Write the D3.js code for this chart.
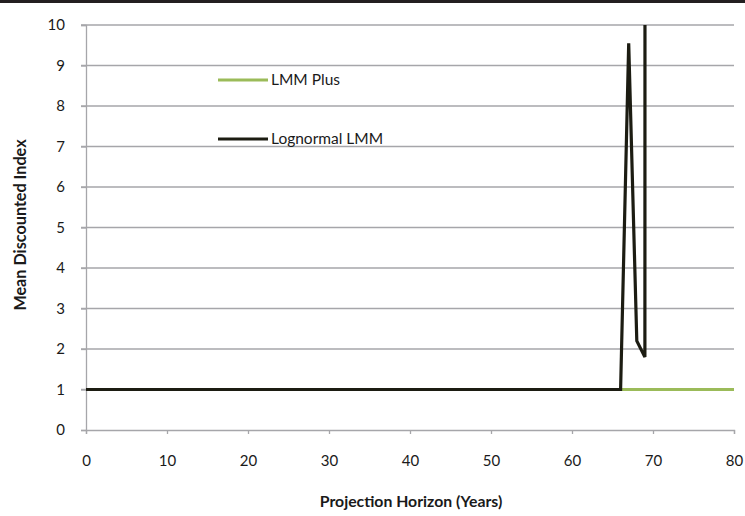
<!DOCTYPE html>
<html>
<head>
<meta charset="utf-8">
<script src="https://cdn.jsdelivr.net/npm/d3@7"></script>
<style>
  body { margin: 0; background: #fff; }
  svg { display: block; font-family: Lato, "Open Sans", sans-serif; }
</style>
</head>
<body>
<svg id="chart" width="745" height="516"></svg>
<script>
// projection years and mean discounted index for each model
const years = [0,1,2,3,4,5,6,7,8,9,10,11,12,13,14,15,16,17,18,19,20,21,22,23,24,25,26,27,28,29,30,
  31,32,33,34,35,36,37,38,39,40,41,42,43,44,45,46,47,48,49,50,51,52,53,54,55,56,57,58,59,60,
  61,62,63,64,65,66,67,68,69,70,71,72,73,74,75,76,77,78,79,80];
const lmmPlus = [1,1,1,1,1,1,1,1,1,1,1,1,1,1,1,1,1,1,1,1,1,1,1,1,1,1,1,1,1,1,1,
  1,1,1,1,1,1,1,1,1,1,1,1,1,1,1,1,1,1,1,1,1,1,1,1,1,1,1,1,1,1,
  1,1,1,1,1,1,1,1,1,1,1,1,1,1,1,1,1,1,1,1];
// lognormal model blows up after year 69 (values run off the top of the chart)
const lognormalLmm = [1,1,1,1,1,1,1,1,1,1,1,1,1,1,1,1,1,1,1,1,1,1,1,1,1,1,1,1,1,1,1,
  1,1,1,1,1,1,1,1,1,1,1,1,1,1,1,1,1,1,1,1,1,1,1,1,1,1,1,1,1,1,
  1,1,1,1,1,1,9.55,2.2,1.8,1000];
const seriesNames = ['LMM Plus', 'Lognormal LMM'];
const seriesColors = ['#9bbb59', '#1c1c12'];
const xTicks = [0,10,20,30,40,50,60,70,80];
const yTicks = [0,1,2,3,4,5,6,7,8,9,10];

const margin = { top: 25, right: 11, bottom: 86, left: 86 };
const width = 745 - margin.left - margin.right;
const height = 516 - margin.top - margin.bottom;

const svg = d3.select('#chart');

// dark strip along the top edge of the original image
svg.append('rect').attr('x', 0).attr('y', 0).attr('width', 745).attr('height', 3).attr('fill', '#231f20');

const g = svg.append('g').attr('transform', `translate(${margin.left},${margin.top})`);

const x = d3.scaleLinear().domain([0, 80]).range([0, width]);
const y = d3.scaleLinear().domain([0, 10]).range([height, 0]);

// gridlines
g.append('g')
  .selectAll('line')
  .data(yTicks.filter(d => d > 0))
  .enter().append('line')
  .attr('x1', -5).attr('x2', width)
  .attr('y1', d => y(d)).attr('y2', d => y(d))
  .attr('stroke', '#a6a6aa').attr('stroke-width', 1.3);

// y axis
const yAxis = g.append('g')
  .call(d3.axisLeft(y).tickValues(yTicks).tickSize(5).tickPadding(16).tickFormat(d3.format('d')));
yAxis.select('.domain').attr('stroke', '#a6a6aa').attr('stroke-width', 1.3);
yAxis.selectAll('.tick line').attr('stroke', '#a6a6aa').attr('stroke-width', 1.3);
yAxis.selectAll('text').attr('font-size', 15).attr('fill', '#1a1a1a').attr('font-family', 'Lato, sans-serif');

// x axis
const xAxis = g.append('g')
  .attr('transform', `translate(0,${height})`)
  .call(d3.axisBottom(x).tickValues(xTicks).tickSize(4).tickPadding(21));
xAxis.select('.domain').attr('stroke', '#a6a6aa').attr('stroke-width', 1.3);
xAxis.selectAll('.tick line').attr('stroke', '#a6a6aa').attr('stroke-width', 1.3);
xAxis.selectAll('text').attr('font-size', 15).attr('fill', '#1a1a1a').attr('font-family', 'Lato, sans-serif');

// clip lines to the plot area
g.append('clipPath').attr('id', 'plot-clip')
  .append('rect').attr('x', -2).attr('y', 0).attr('width', width + 6).attr('height', height + 4);

const line = d3.line()
  .defined(d => d[1] != null)
  .x(d => x(d[0]))
  .y(d => y(d[1]));

const series = [lmmPlus, lognormalLmm];
series.forEach((vals, i) => {
  const pts = vals.map((v, j) => [years[j], v]);
  g.append('path')
    .datum(pts)
    .attr('clip-path', 'url(#plot-clip)')
    .attr('fill', 'none')
    .attr('stroke', seriesColors[i])
    .attr('stroke-width', 3.2)
    .attr('stroke-linejoin', 'miter')
    .attr('d', line);
});

// legend
const legendY = [80, 139];
seriesNames.forEach((name, i) => {
  svg.append('line')
    .attr('x1', 218).attr('x2', 268)
    .attr('y1', legendY[i]).attr('y2', legendY[i])
    .attr('stroke', seriesColors[i]).attr('stroke-width', 3.2);
  svg.append('text')
    .attr('x', 271).attr('y', legendY[i] + 5)
    .attr('font-size', 15.5).attr('fill', '#1a1a1a')
    .text(name);
});

// axis titles
svg.append('text')
  .attr('x', 411).attr('y', 507)
  .attr('text-anchor', 'middle')
  .attr('font-size', 15.8).attr('font-weight', 'bold').attr('fill', '#1a1a1a')
  .text('Projection Horizon (Years)');

svg.append('text')
  .attr('transform', 'translate(26,225) rotate(-90)')
  .attr('text-anchor', 'middle')
  .attr('font-size', 16.2).attr('font-weight', 'bold').attr('fill', '#1a1a1a')
  .text('Mean Discounted Index');
</script>
</body>
</html>
